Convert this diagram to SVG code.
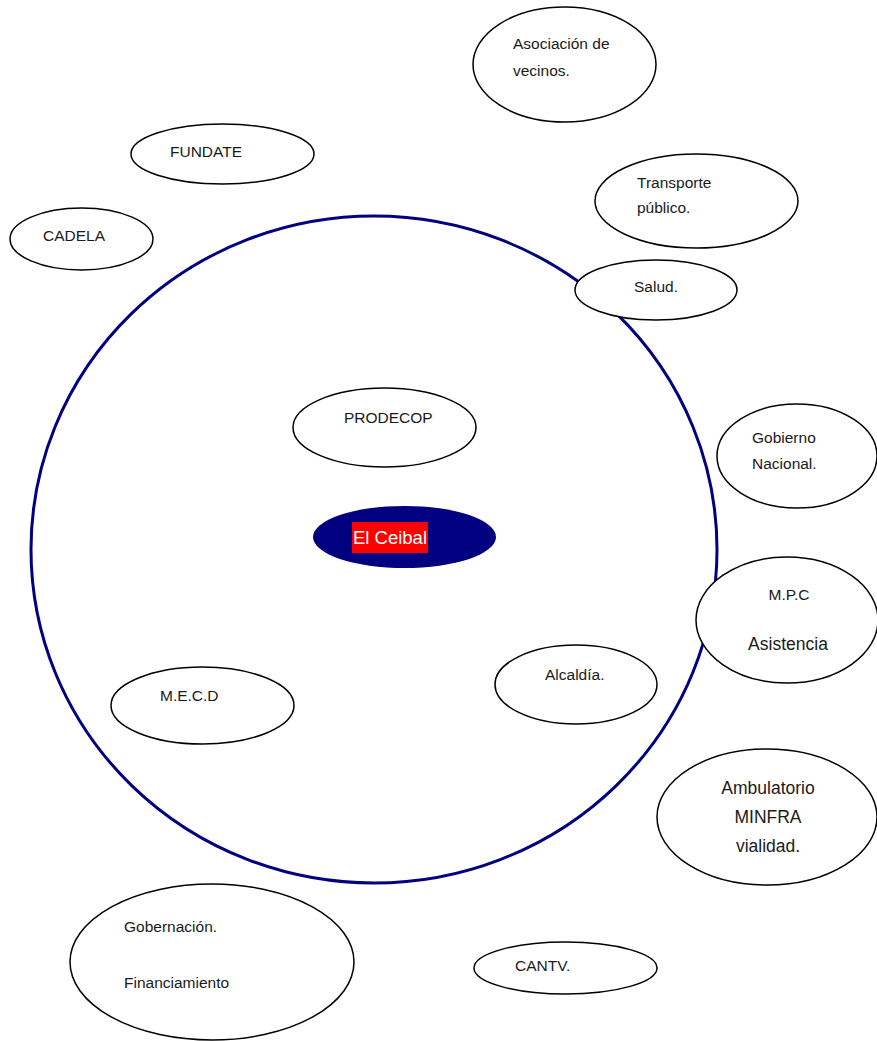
<svg xmlns="http://www.w3.org/2000/svg" width="877" height="1041" viewBox="0 0 877 1041">
<style>
.n{fill:#fff;stroke:#000;stroke-width:1.5}
.big{fill:none;stroke:#000080;stroke-width:3}
text{font-family:"Liberation Sans",Arial,sans-serif;font-size:15.5px;fill:#1a1a1a}
.lg{font-size:17.5px}
.c{text-anchor:middle}
</style>
<rect width="877" height="1041" fill="#fff"/>
<g id="community">
<ellipse class="big" cx="374" cy="549.5" rx="343" ry="333.5"/>
</g>
<g id="connectors"></g>
<g id="asociacion"><ellipse class="n" cx="564.5" cy="64.5" rx="91.5" ry="57.5"/><text x="513" y="49">Asociación de</text><text x="513" y="76">vecinos.</text></g>
<g id="fundate"><ellipse class="n" cx="222.5" cy="154" rx="91.5" ry="30"/><text x="170" y="157">FUNDATE</text></g>
<g id="cadela"><ellipse class="n" cx="81.5" cy="239" rx="71.5" ry="31"/><text x="43" y="241">CADELA</text></g>
<g id="transporte"><ellipse class="n" cx="696.5" cy="201" rx="101.5" ry="47"/><text x="637" y="188">Transporte</text><text x="637" y="213">público.</text></g>
<g id="salud"><ellipse class="n" cx="656" cy="290" rx="81" ry="30"/><text class="c" x="656" y="292">Salud.</text></g>
<g id="prodecop"><ellipse class="n" cx="384.5" cy="427.5" rx="91.5" ry="39.5"/><text x="344" y="423">PRODECOP</text></g>
<g id="gobierno"><ellipse class="n" cx="797" cy="456" rx="80" ry="52"/><text x="752" y="443">Gobierno</text><text x="752" y="469">Nacional.</text></g>
<g id="elceibal"><ellipse cx="404.5" cy="537" rx="91.5" ry="31" fill="#000080"/><rect x="352" y="522" width="76" height="31" fill="#ff0000"/><text x="390" y="544" class="c" style="font-size:18.5px;fill:#fff">El Ceibal</text></g>
<g id="mpc"><ellipse class="n" cx="787" cy="620" rx="91" ry="63"/><text class="c" x="789" y="600">M.P.C</text><text class="c lg" x="788" y="650">Asistencia</text></g>
<g id="alcaldia"><ellipse class="n" cx="576" cy="684.5" rx="81" ry="39.5"/><text x="545" y="680">Alcaldía.</text></g>
<g id="mecd"><ellipse class="n" cx="202.5" cy="705.5" rx="91.5" ry="38.5"/><text x="160" y="701">M.E.C.D</text></g>
<g id="ambulatorio"><ellipse class="n" cx="767" cy="817" rx="110" ry="68"/><text class="c lg" x="768" y="794">Ambulatorio</text><text class="c lg" x="768" y="823">MINFRA</text><text class="c lg" x="768" y="852">vialidad.</text></g>
<g id="gobernacion"><ellipse class="n" cx="212" cy="962" rx="142" ry="78"/><text x="124" y="932">Gobernación.</text><text x="124" y="988">Financiamiento</text></g>
<g id="cantv"><ellipse class="n" cx="565.5" cy="968" rx="91.5" ry="26"/><text x="515" y="971">CANTV.</text></g>
</svg>
